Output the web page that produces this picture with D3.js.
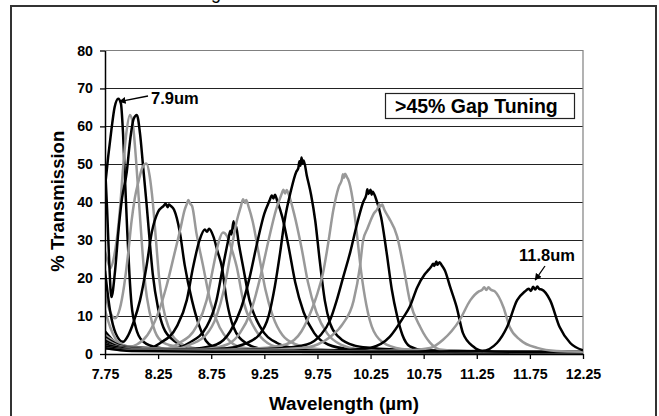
<!DOCTYPE html>
<html><head><meta charset="utf-8">
<script src="https://cdn.jsdelivr.net/npm/d3@7"></script>
<style>
html,body{margin:0;padding:0;background:#fff;}
svg{display:block;font-family:"Liberation Sans",Arial,sans-serif;}
</style></head>
<body><svg id="chart" width="659" height="416"></svg>
<script>
// ---------- data ----------
const xTicks = [7.75, 8.25, 8.75, 9.25, 9.75, 10.25, 10.75, 11.25, 11.75, 12.25];
const xTickLabels = ["7.75","8.25","8.75","9.25","9.75","10.25","10.75","11.25","11.75","12.25"];
const yTicks = [0, 10, 20, 30, 40, 50, 60, 70, 80];
const xTitle = "Wavelength (\u00b5m)";
const yTitle = "% Transmission";
const boxLabel = ">45% Gap Tuning";
const annotations = ["7.9um", "11.8um"];

const c1 = [[7.75,44],[7.78,52],[7.81,59],[7.84,65],[7.875,67.3],[7.90,66],[7.92,58],[7.94,45],[7.96,32],[7.98,21],[8.00,13],[8.04,7],[8.10,3.5],[8.2,2],[8.4,1.2],[8.8,0.8],[9.5,0.6],[10.5,0.5],[12.25,0.4]];
const c2 = [[7.75,27],[7.78,24],[7.80,22.6],[7.83,25],[7.86,30],[7.89,38],[7.92,49],[7.95,58],[7.985,63],[8.01,61],[8.04,52],[8.07,40],[8.10,28],[8.13,18],[8.17,11],[8.22,6],[8.3,3],[8.45,1.8],[8.75,1],[9.5,0.6],[12.25,0.4]];
const c3 = [[7.75,50],[7.77,38],[7.79,24],[7.81,15],[7.845,22],[7.875,32],[7.91,41],[7.955,48],[7.985,56],[8.02,62],[8.05,63],[8.08,58],[8.11,49],[8.14,40],[8.17,30],[8.20,21],[8.25,12],[8.30,7],[8.40,3.5],[8.5,2],[8.75,1],[9.5,0.6],[12.25,0.4]];
const c4 = [[7.75,16],[7.80,11],[7.845,9.4],[7.89,12],[7.93,18],[7.97,27],[8.00,35],[8.03,41],[8.07,46],[8.10,49],[8.14,50.2],[8.17,47],[8.20,40],[8.23,30],[8.26,20],[8.30,12],[8.35,7],[8.45,3],[8.6,1.5],[9,0.8],[10,0.5],[12.25,0.4]];
const c5 = [[7.75,22],[7.80,11],[7.85,5.5],[7.92,3.2],[7.97,5],[8.02,8.5],[8.08,14.2],[8.14,23],[8.19,32],[8.25,37.5],[8.30,39],[8.32,39.6],[8.34,38.7],[8.35,39.4],[8.37,39],[8.40,38],[8.455,32],[8.50,23.5],[8.57,14],[8.64,7.2],[8.70,3.5],[8.77,1.9],[8.9,1.2],[9.25,0.8],[10,0.6],[12.25,0.4]];
const c6 = [[7.75,11.6],[7.80,7],[7.85,4],[7.92,2.4],[7.985,1.9],[8.05,2.5],[8.15,5],[8.24,10],[8.33,18],[8.40,26],[8.46,33],[8.50,38],[8.52,39.5],[8.535,40.6],[8.55,39.7],[8.57,39],[8.61,32],[8.675,23],[8.74,14],[8.83,7],[8.92,3.5],[9.0,2],[9.2,1.2],[9.6,0.8],[12.25,0.4]];
const c7 = [[7.75,6],[7.85,3],[7.95,2],[8.05,1.7],[8.17,1.6],[8.27,2.9],[8.425,7.2],[8.52,14.2],[8.58,23],[8.64,30],[8.69,32.8],[8.71,32.2],[8.73,33],[8.77,31],[8.81,27],[8.85,23],[8.895,14.2],[8.958,7.2],[9.08,2.8],[9.24,1.3],[9.6,0.8],[12.25,0.4]];
const c8 = [[7.75,5],[7.9,2.5],[8.1,1.5],[8.3,1.4],[8.45,2.9],[8.61,7.2],[8.707,14.2],[8.77,23],[8.82,29.5],[8.86,32],[8.90,31],[8.95,27],[8.99,23],[9.05,14.2],[9.15,7.2],[9.28,2.9],[9.45,1.4],[9.8,0.8],[12.25,0.4]];
const c9 = [[7.75,4.5],[7.9,2.2],[8.1,1.4],[8.35,1.2],[8.54,2.9],[8.707,7.2],[8.80,14.2],[8.86,23],[8.91,30],[8.93,32.5],[8.94,31.5],[8.96,35],[8.97,33],[8.98,34],[9.01,29],[9.05,23],[9.11,14.2],[9.21,7.2],[9.37,2.9],[9.55,1.5],[10,0.8],[12.25,0.4]];
const c10 = [[7.75,4],[7.9,2],[8.2,1.3],[8.45,1.5],[8.55,2.5],[8.70,5],[8.80,10],[8.87,17],[8.93,26],[8.99,35],[9.03,39],[9.05,40.8],[9.07,39.8],[9.08,40.6],[9.10,39],[9.14,35],[9.20,26],[9.26,17],[9.33,10],[9.42,5],[9.55,2.5],[9.75,1.3],[10.2,0.8],[12.25,0.4]];
const c11 = [[7.75,3.5],[7.9,1.8],[8.3,1.1],[8.6,1.4],[8.8,2.5],[8.93,6],[9.03,12],[9.11,20],[9.18,29],[9.25,37],[9.30,40.5],[9.32,41.8],[9.335,41],[9.35,42],[9.37,40.5],[9.42,36],[9.48,28],[9.54,19],[9.62,11],[9.72,5.5],[9.85,2.5],[10.05,1.3],[10.5,0.8],[12.25,0.4]];
const c12 = [[7.75,3],[7.9,1.6],[8.4,1],[8.7,1.3],[8.9,2.5],[9.02,5.5],[9.12,11],[9.21,20],[9.29,30],[9.36,38],[9.41,42],[9.43,43.3],[9.445,42.3],[9.46,43.2],[9.48,42],[9.53,37],[9.60,28],[9.66,19],[9.74,11],[9.84,5.5],[9.97,2.5],[10.15,1.3],[10.6,0.8],[12.25,0.4]];
const c13 = [[7.75,3],[7.9,1.5],[8.5,1],[8.9,1.5],[9.05,2.5],[9.2,5],[9.29,10],[9.35,18],[9.40,27],[9.44,35],[9.50,43],[9.55,48],[9.57,49],[9.58,50.8],[9.59,49.6],[9.60,51.8],[9.61,50.2],[9.62,51],[9.65,47],[9.69,42],[9.73,35],[9.77,25],[9.82,14],[9.87,8],[9.95,4.5],[10.1,2.2],[10.25,1.6],[10.5,1.2],[11,0.8],[12.25,0.5]];
const c14 = [[7.75,2.5],[8,1.3],[8.6,1],[9.2,1.5],[9.45,2.5],[9.60,6],[9.70,12],[9.75,16],[9.80,21],[9.85,29],[9.90,38],[9.95,44],[9.98,46],[9.99,47.4],[10.0,46.4],[10.01,47.5],[10.03,46.5],[10.04,46],[10.08,41],[10.12,32],[10.16,22],[10.21,13],[10.28,6],[10.40,2.5],[10.6,1.2],[11,0.8],[12.25,0.5]];
const c15 = [[7.75,2.5],[8,1.2],[8.8,1],[9.4,1.5],[9.65,2.5],[9.78,5],[9.87,9],[9.93,14],[9.99,20],[10.06,27],[10.12,34],[10.18,40],[10.21,42],[10.22,43.4],[10.23,42.2],[10.25,43.3],[10.26,42],[10.27,42.8],[10.30,41],[10.35,36],[10.40,27],[10.45,17],[10.50,10],[10.55,5],[10.62,2],[10.75,1],[11.2,0.7],[12.25,0.5]];
const c16 = [[7.75,2],[8,1.1],[9,1],[9.6,1.6],[9.75,2.5],[9.87,4.5],[9.99,8],[10.09,14],[10.15,23],[10.18,30],[10.22,33],[10.28,37],[10.32,38.6],[10.33,39.5],[10.34,38.8],[10.36,39.4],[10.38,38],[10.42,36],[10.50,31],[10.56,23],[10.62,14],[10.72,7],[10.81,3],[10.90,1.2],[11.1,0.8],[12.25,0.5]];
const c17 = [[7.75,2],[8,1],[9,0.8],[9.8,0.9],[10.1,1.2],[10.245,1.6],[10.43,4.5],[10.56,9.7],[10.62,12.5],[10.69,17.6],[10.76,21],[10.80,22.3],[10.82,23],[10.84,23.8],[10.85,23.2],[10.87,24.4],[10.88,23.5],[10.9,24.2],[10.92,23.4],[10.95,22],[11.0,17.6],[11.06,12.4],[11.12,5.5],[11.22,1.9],[11.30,0.8],[11.6,0.6],[12.25,0.5]];
const c18 = [[7.75,1.5],[8,0.9],[9,0.7],[10,0.7],[10.6,1],[10.81,1.6],[10.93,3.7],[11.09,9],[11.19,14.2],[11.27,16.5],[11.30,16.9],[11.32,17.6],[11.34,16.9],[11.36,17.6],[11.38,17],[11.42,16.5],[11.50,12.4],[11.56,7.1],[11.66,3.7],[11.82,1.6],[12.0,0.8],[12.25,0.6]];
const c19 = [[7.75,1.5],[8,0.8],[9,0.6],[10,0.6],[11,0.7],[11.30,0.8],[11.44,2.9],[11.535,7.1],[11.63,14.2],[11.70,16.4],[11.74,17.2],[11.76,16.6],[11.78,17.7],[11.80,17],[11.82,17.8],[11.84,17.1],[11.86,17],[11.94,14.2],[12.03,7.1],[12.13,2.9],[12.25,1]];

const seriesList = [c1, c2, c3, c4, c5, c6, c7, c8, c9, c10, c11, c12, c13, c14, c15, c16, c17, c18, c19];
const seriesColors = ["#000","#999","#000","#999","#000","#999","#000","#999","#000","#999","#000","#999","#000","#999","#000","#999","#000","#999","#000"];

// ---------- chart ----------
const svg = d3.select("#chart");
const x = d3.scaleLinear().domain([7.75, 12.25]).range([105, 583]);
const y = d3.scaleLinear().domain([0, 80]).range([354, 50.5]);
const FONT = "'Liberation Sans', Arial, sans-serif";

// outer frame
svg.append("rect").attr("x", 11).attr("y", 6).attr("width", 645).attr("height", 420)
  .attr("fill", "#fff").attr("stroke", "#333").attr("stroke-width", 2);

// cut-off title fragment at top (the reference title is cropped at the image edge)
svg.append("text").attr("x", 216).attr("y", -1.5).attr("text-anchor", "middle")
  .attr("font-size", 18).attr("fill", "#000").text("g");

// gridlines
svg.append("g").selectAll("line").data(yTicks.filter(v => v > 0 && v < 80)).join("line")
  .attr("x1", x(7.75)).attr("x2", x(12.25))
  .attr("y1", d => Math.round(y(d)) + 0.5).attr("y2", d => Math.round(y(d)) + 0.5)
  .attr("stroke", "#222").attr("stroke-width", 1);

// plot border top & right (gray)
svg.append("path")
  .attr("d", `M${x(7.75)},${y(80)}H${x(12.25)}V${y(0)}`)
  .attr("fill", "none").attr("stroke", "#808080").attr("stroke-width", 1.2);

// curves
svg.append("clipPath").attr("id", "clip").append("rect")
  .attr("x", x(7.75)).attr("y", y(80)).attr("width", x(12.25) - x(7.75)).attr("height", y(0) - y(80));
const line = d3.line().x(d => x(d[0])).y(d => y(d[1])).curve(d3.curveMonotoneX);
svg.append("g").attr("clip-path", "url(#clip)").selectAll("path").data(seriesList).join("path")
  .attr("d", d => line(d)).attr("fill", "none")
  .attr("stroke", (d, i) => seriesColors[i]).attr("stroke-width", 2.5)
  .attr("stroke-linejoin", "round");

// axes
const yAxis = svg.append("g").attr("transform", `translate(${x(7.75)},0)`)
  .call(d3.axisLeft(y).tickValues(yTicks).tickSize(5).tickSizeOuter(0).tickPadding(7).tickFormat(d3.format("d")));
const xAxis = svg.append("g").attr("transform", `translate(0,${y(0)})`)
  .call(d3.axisBottom(x).tickValues(xTicks).tickSize(5).tickSizeOuter(0).tickPadding(10)
    .tickFormat((d, i) => xTickLabels[i]));
[yAxis, xAxis].forEach(g => {
  g.select(".domain").attr("stroke", "#000").attr("stroke-width", 1.5);
  g.selectAll(".tick line").attr("stroke", "#000").attr("stroke-width", 1.3);
  g.selectAll("text").attr("font-family", FONT)
    .attr("font-weight", "bold").attr("font-size", 14.2).attr("fill", "#000");
});

// axis titles
svg.append("text").attr("x", x((7.75 + 12.25) / 2)).attr("y", 410).attr("text-anchor", "middle")
  .attr("font-weight", "bold").attr("font-size", 18.8).text(xTitle);
svg.append("text").attr("transform", `translate(64,${(y(0) + y(80)) / 2 - 1}) rotate(-90)`)
  .attr("text-anchor", "middle").attr("font-weight", "bold").attr("font-size", 18.5).text(yTitle);

// label box
svg.append("rect").attr("x", 385.5).attr("y", 93.5).attr("width", 189).attr("height", 25)
  .attr("fill", "#fff").attr("stroke", "#222").attr("stroke-width", 1.2);
svg.append("text").attr("x", 395).attr("y", 113).attr("font-weight", "bold").attr("font-size", 19.5)
  .text(boxLabel);

// arrows
const defs = svg.append("defs");
defs.append("marker").attr("id", "ah").attr("viewBox", "0 0 10 10").attr("refX", 9).attr("refY", 5)
  .attr("markerWidth", 7).attr("markerHeight", 7).attr("markerUnits", "userSpaceOnUse").attr("orient", "auto")
  .append("path").attr("d", "M0,0L10,5L0,10Z").attr("fill", "#000");

svg.append("line").attr("x1", 148).attr("y1", 96).attr("x2", x(7.885)).attr("y2", y(66.5))
  .attr("stroke", "#000").attr("stroke-width", 1.3).attr("marker-end", "url(#ah)");
svg.append("text").attr("x", 151).attr("y", 104).attr("font-weight", "bold").attr("font-size", 16.5)
  .text(annotations[0]);

svg.append("line").attr("x1", 545).attr("y1", 266).attr("x2", x(11.80)).attr("y2", y(19.5))
  .attr("stroke", "#000").attr("stroke-width", 1.3).attr("marker-end", "url(#ah)");
svg.append("text").attr("x", 519).attr("y", 261).attr("font-weight", "bold").attr("font-size", 16.5)
  .text(annotations[1]);
</script></body></html>
